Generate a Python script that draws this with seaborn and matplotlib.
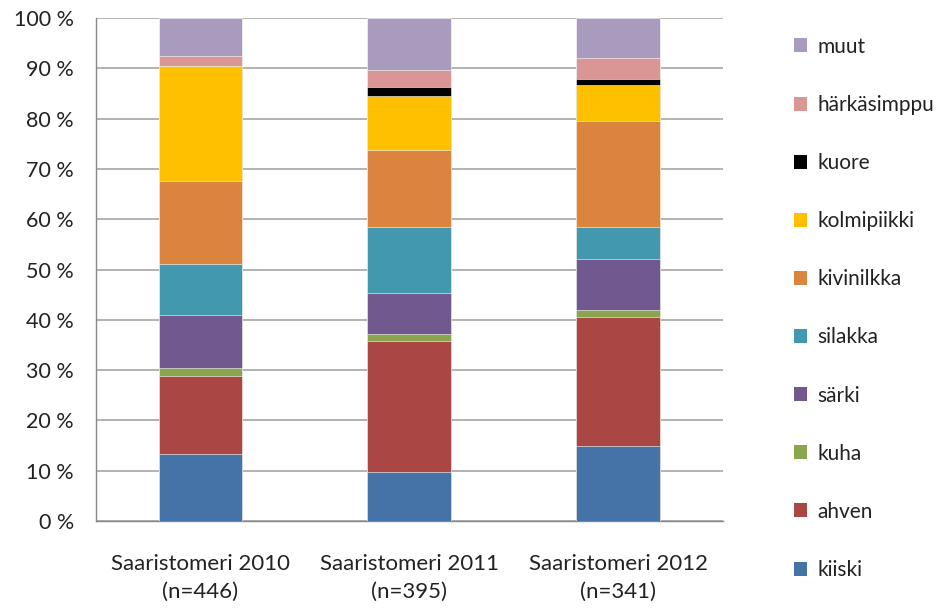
import numpy as np
import pandas as pd
import matplotlib.pyplot as plt
import seaborn as sns
from matplotlib.patches import Patch

# osuudet (%) alhaalta ylös
groups = ["Saaristomeri 2010\n(n=446)", "Saaristomeri 2011\n(n=395)", "Saaristomeri 2012\n(n=341)"]
species = ["kiiski", "ahven", "kuha", "särki", "silakka", "kivinilkka",
           "kolmipiikki", "kuore", "härkäsimppu", "muut"]
kiiski = [13.3, 9.8, 15.0]
ahven = [15.6, 25.9, 25.6]
kuha = [1.5, 1.5, 1.3]
sarki = [10.5, 8.2, 10.2]
silakka = [10.2, 13.0, 6.3]
kivinilkka = [16.5, 15.4, 21.1]
kolmipiikki = [22.8, 10.7, 7.2]
kuore = [0.0, 1.8, 1.1]
harkasimppu = [2.0, 3.4, 4.2]
muut = [7.6, 10.3, 8.0]
colors = ["#4572A7", "#AA4643", "#89A54E", "#71588F", "#4198AF", "#DB843D",
          "#FFC000", "#000000", "#D99694", "#A99BBD"]
yticks = [0, 10, 20, 30, 40, 50, 60, 70, 80, 90, 100]

values = [kiiski, ahven, kuha, sarki, silakka, kivinilkka, kolmipiikki, kuore, harkasimppu, muut]
df = pd.DataFrame(np.array(values).T, columns=species)
df["group"] = groups
cum = df[species].cumsum(axis=1)
cum["group"] = groups

sns.set_style("white")
plt.rcParams['font.family'] = ['Lato', 'DejaVu Sans']

fig = plt.figure(figsize=(9.47, 6.10), dpi=100)
ax = fig.add_axes([96 / 947, 1 - 521 / 610, (722.5 - 96) / 947, (521 - 18) / 610])

# piirretään kumulatiiviset summat päältä alas, jolloin alemmat peittävät ylemmät
for sp, col in zip(species[::-1], colors[::-1]):
    sns.barplot(data=cum, x="group", y=sp, color=col, width=0.4, ax=ax,
                edgecolor="white", linewidth=0.4, saturation=1, zorder=3)

ax.set_ylim(0, 100)
ax.set_xlim(-0.5, 2.5)
ax.set_yticks(yticks)
ax.set_yticklabels([f"{v} %" for v in yticks], fontsize=15.5, color="#222222")
ax.set_xlabel("")
ax.set_ylabel("")
ax.tick_params(axis="x", length=0, pad=24, labelsize=16, labelcolor="#222222")
ax.tick_params(axis="y", length=6, width=1, color="#888888", pad=10, direction="out")
for lab in ax.get_xticklabels():
    lab.set_linespacing(1.45)
ax.set_xticks([-0.5, 0.5, 1.5, 2.5], minor=True)
ax.tick_params(axis="x", which="minor", length=6, width=1, color="#888888", direction="out")

ax.yaxis.grid(True, color="#A6A6A6", linewidth=1.2, zorder=0)
ax.set_axisbelow(True)
for s in ["top", "right"]:
    ax.spines[s].set_visible(False)
for s in ["left", "bottom"]:
    ax.spines[s].set_color("#888888")
    ax.spines[s].set_linewidth(1)

handles = [Patch(facecolor=c, edgecolor="none", label=s) for s, c in zip(species, colors)]
fig.legend(handles=handles[::-1], loc="upper left", bbox_to_anchor=(775 / 947, 1 - 18 / 610),
           frameon=False, fontsize=15, handlelength=0.65, handleheight=0.65,
           handletextpad=0.5, labelspacing=1.83, labelcolor="#222222")

fig.savefig("out.png", dpi=100)
